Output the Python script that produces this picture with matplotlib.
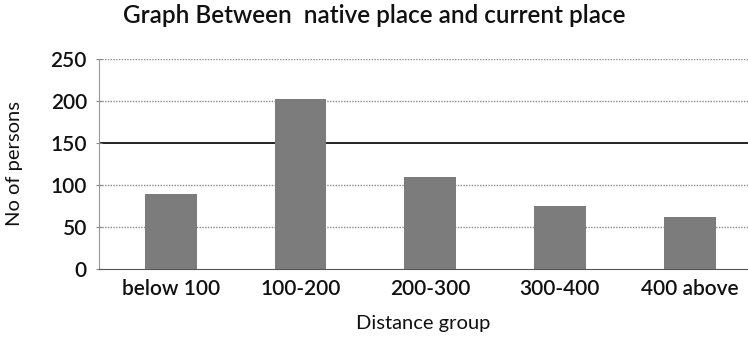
import matplotlib.pyplot as plt

# distance from native place to current place
groups = ['below 100', '100-200', '200-300', '300-400', '400 above']
persons = [89, 202, 109, 75, 62]

plt.rcParams['font.family'] = ['Lato', 'DejaVu Sans']
plt.rcParams['font.weight'] = 'semibold'

fig = plt.figure(figsize=(7.48, 3.39), dpi=100)
ax = fig.add_axes([0.132, 0.2065, 0.868, 0.6195])

x = range(len(groups))
ax.bar(x, persons, width=0.4, color='#7c7c7c', zorder=3)

ax.set_ylim(0, 250)
ax.set_xlim(-0.555, 4.45)
ax.set_yticks([0, 50, 100, 150, 200, 250])
ax.set_xticks(list(x))
ax.set_xticklabels(groups)
ax.tick_params(axis='both', labelsize=15, colors='#111111')
ax.tick_params(axis='x', length=0, pad=7)
ax.tick_params(axis='y', length=5, direction='inout', color='#888888', pad=6)

# horizontal grid, the 150 line comes out darker
for v in [50, 100, 200, 250]:
    ax.axhline(v, color='#8a8a8a', lw=1.0, ls=(0, (1, 1)), zorder=1)
ax.axhline(150, color='#222222', lw=1.4, zorder=1)

for s in ['top', 'right']:
    ax.spines[s].set_visible(False)
ax.spines['left'].set_color('#999999')
ax.spines['left'].set_linestyle((0, (1, 1)))
ax.spines['bottom'].set_color('#555555')
ax.spines['bottom'].set_linestyle((0, (1, 1)))

ax.set_xlabel('Distance group', fontsize=14.5, color='#111111', labelpad=12)
ax.set_ylabel('No of persons', fontsize=14.5, color='#111111', labelpad=20)

fig.text(0.5, 0.955, 'Graph Between  native place and current place',
         ha='center', va='center', fontsize=17.5, color='#111111')

fig.savefig('out.png', dpi=100)
